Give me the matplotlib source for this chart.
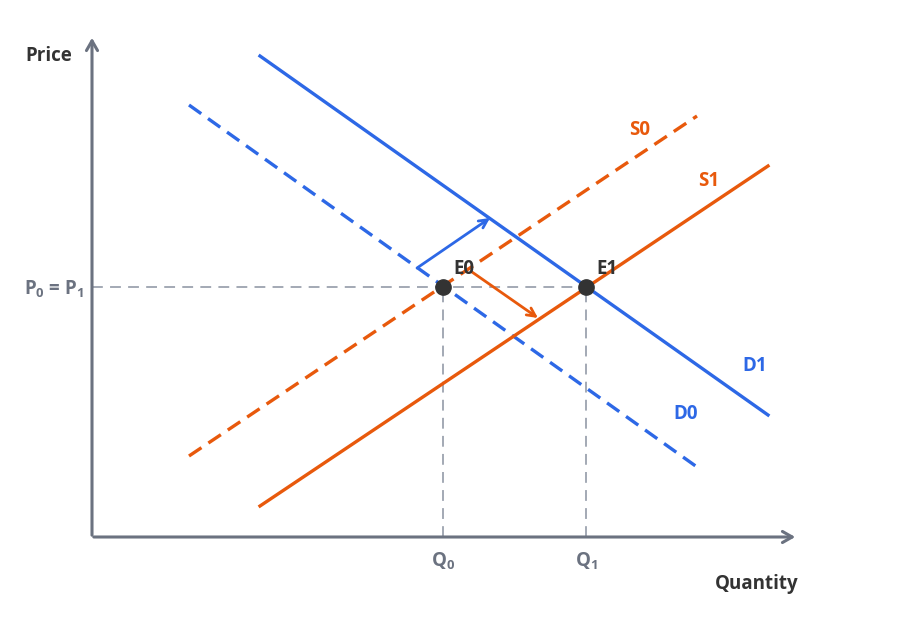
import matplotlib.pyplot as plt

plt.rcParams['font.family'] = ['Open Sans', 'DejaVu Sans']
plt.rcParams['mathtext.fontset'] = 'custom'
plt.rcParams['mathtext.rm'] = 'Open Sans:bold'
plt.rcParams['mathtext.bf'] = 'Open Sans:bold'
plt.rcParams['mathtext.default'] = 'bf'

BLUE = '#2d68e6'
ORANGE = '#e8590c'
AXIS = '#6b7280'
GUIDE = '#9ca3af'
DARK = '#333333'
FS = 13.5

# curve end points (quantity, price)
d0_q = [97, 605]
d0_p = [432, 70]
d1_q = [168, 676]
d1_p = [481, 122]
s0_q = [97, 605]
s0_p = [81, 421]
s1_q = [168, 676]
s1_p = [31, 371]

# equilibria
eq_q = [351, 494]
eq_p = [250, 250]
eq_names = ['E0', 'E1']

# shift arrows: (start, end)
demand_shift = ((325, 269), (398, 319))
supply_shift = ((380, 265), (446, 219))

fig = plt.figure(figsize=(9, 6.25), dpi=100)
ax = fig.add_axes([0, 0, 1, 1])
ax.set_xlim(-92, 808)
ax.set_ylim(-88, 537)
ax.axis('off')

# guide lines
ax.plot([0, eq_q[1]], [eq_p[0], eq_p[1]], color=GUIDE, lw=1.3, dashes=(6, 4), zorder=1)
for q, p in zip(eq_q, eq_p):
    ax.plot([q, q], [0, p], color=GUIDE, lw=1.3, dashes=(6, 4), zorder=1)

# axes with arrows
ax.annotate('', xy=(0, 502), xytext=(0, -1),
            arrowprops=dict(arrowstyle='->,head_length=0.7,head_width=0.4', color=AXIS, lw=2.2))
ax.annotate('', xy=(706, 0), xytext=(-1, 0),
            arrowprops=dict(arrowstyle='->,head_length=0.7,head_width=0.4', color=AXIS, lw=2.2))

# curves
ax.plot(d0_q, d0_p, color=BLUE, lw=2.4, dashes=(4.5, 2.5))
ax.plot(d1_q, d1_p, color=BLUE, lw=2.4)
ax.plot(s0_q, s0_p, color=ORANGE, lw=2.4, dashes=(4.5, 2.5))
ax.plot(s1_q, s1_p, color=ORANGE, lw=2.4)

# shift arrows
ax.annotate('', xy=demand_shift[1], xytext=demand_shift[0],
            arrowprops=dict(arrowstyle='->,head_length=0.6,head_width=0.3', color=BLUE, lw=2,
                            shrinkA=0, shrinkB=0))
ax.annotate('', xy=supply_shift[1], xytext=supply_shift[0],
            arrowprops=dict(arrowstyle='->,head_length=0.6,head_width=0.3', color=ORANGE, lw=2,
                            shrinkA=0, shrinkB=0))

# equilibrium points
ax.plot(eq_q, eq_p, 'o', color=DARK, ms=11, zorder=5)
for q, p, name in zip(eq_q, eq_p, eq_names):
    ax.text(q + 10, p + 8, name, color=DARK, fontsize=FS, fontweight='bold', va='bottom')

# curve labels
ax.text(548, 407, 'S0', color=ORANGE, fontsize=FS, fontweight='bold', ha='center', va='center')
ax.text(617, 356, 'S1', color=ORANGE, fontsize=FS, fontweight='bold', ha='center', va='center')
ax.text(663, 171, 'D1', color=BLUE, fontsize=FS, fontweight='bold', ha='center', va='center')
ax.text(594, 123, 'D0', color=BLUE, fontsize=FS, fontweight='bold', ha='center', va='center')

# axis labels
ax.text(-43, 481, 'Price', color=DARK, fontsize=FS, fontweight='bold', ha='center', va='center')
ax.text(665, -47, 'Quantity', color=DARK, fontsize=FS, fontweight='bold', ha='center', va='center')
ax.text(-38, 248, '$P_0$ = $P_1$', color=AXIS, fontsize=FS, fontweight='bold', ha='center', va='center')
ax.text(eq_q[0], -24, '$Q_0$', color=AXIS, fontsize=FS, fontweight='bold', ha='center', va='center')
ax.text(eq_q[1], -24, '$Q_1$', color=AXIS, fontsize=FS, fontweight='bold', ha='center', va='center')

fig.savefig('out.png', dpi=100)
